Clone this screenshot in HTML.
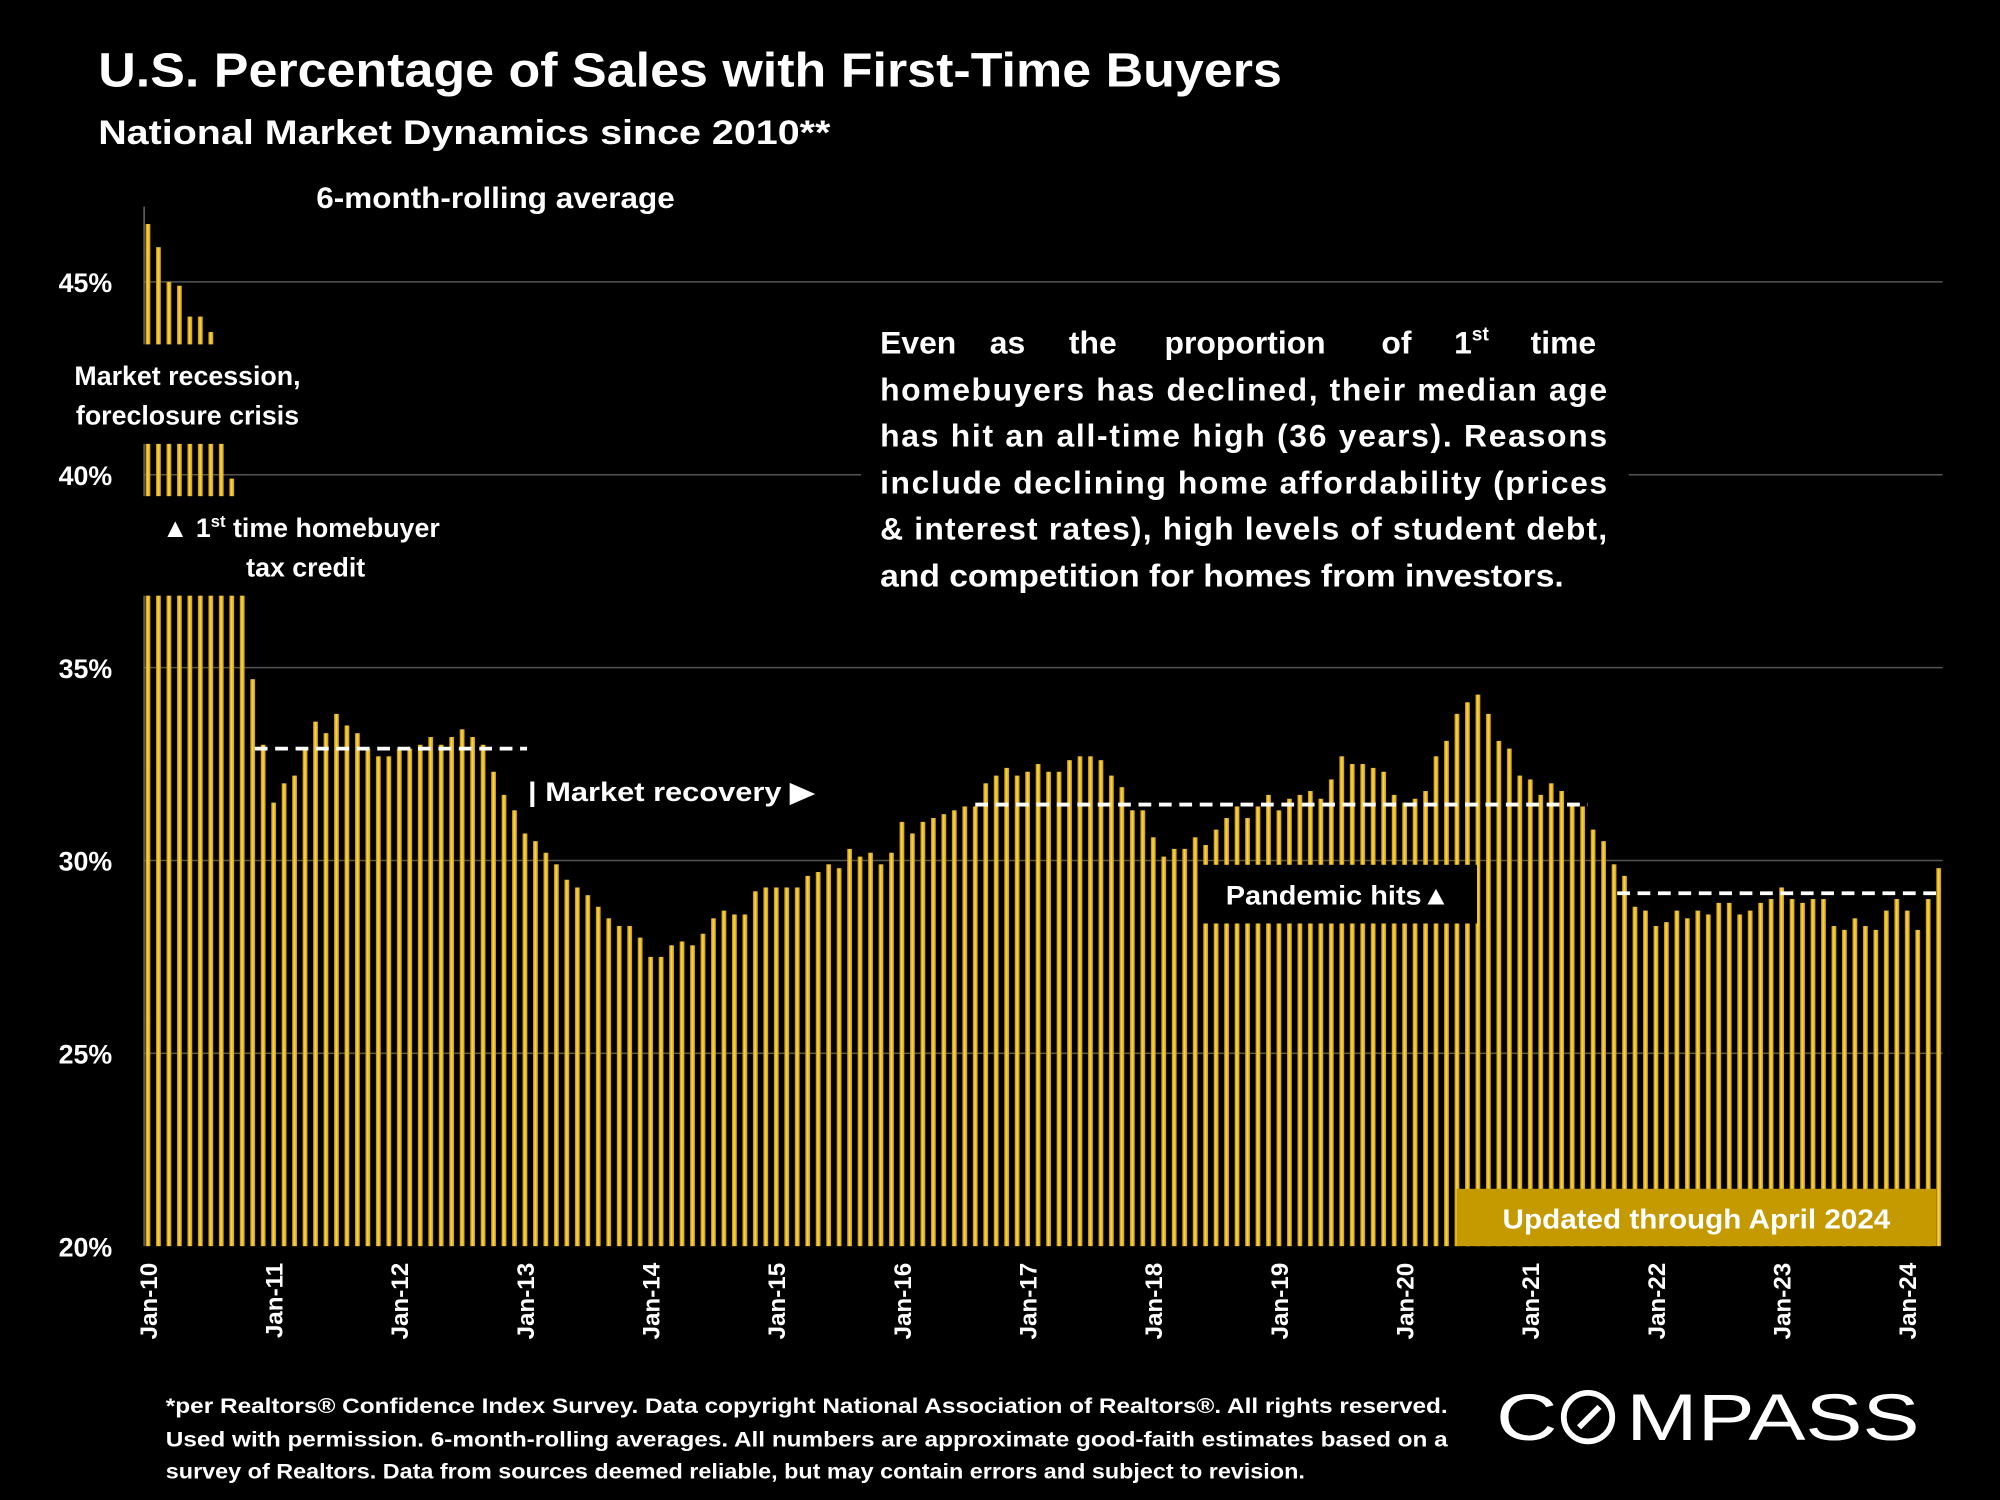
<!DOCTYPE html>
<html><head><meta charset="utf-8"><style>
html,body{margin:0;padding:0;background:#000;}
svg{display:block;}
text{font-family:"Liberation Sans",sans-serif;font-weight:bold;fill:#fff;}
</style></head><body>
<svg id="chart" xmlns="http://www.w3.org/2000/svg" width="2000" height="1500" viewBox="0 0 1568 1176">
<defs>
<linearGradient id="bg" x1="0" x2="1" y1="0" y2="0">
<stop offset="0" stop-color="#b8860b"/><stop offset="0.45" stop-color="#ffd84a"/><stop offset="1" stop-color="#c8960c"/>
</linearGradient>
</defs>
<rect x="0" y="0" width="1568" height="1176" fill="#000"/>
<text x="77" y="68" font-size="38" textLength="928" lengthAdjust="spacingAndGlyphs">U.S. Percentage of Sales with First-Time Buyers</text>
<text x="77" y="113" font-size="27" textLength="574" lengthAdjust="spacingAndGlyphs">National Market Dynamics since 2010**</text>
<text x="248" y="163" font-size="23" textLength="281" lengthAdjust="spacingAndGlyphs">6-month-rolling average</text>
<g id="grid"></g>
<g id="bars"></g>
<g id="avg"></g>
<g id="yax"></g>
<g id="xax"></g>

<rect x="40" y="270" width="215" height="78" fill="#000"/>
<text font-size="21" text-anchor="middle"><tspan x="147" y="302">Market recession,</tspan><tspan x="147" y="333">foreclosure crisis</tspan></text>
<rect x="110" y="389" width="275" height="78" fill="#000"/>
<text font-size="21"><tspan x="127" y="421">▲ 1<tspan font-size="13" dy="-8">st</tspan><tspan dy="8"> time homebuyer</tspan></tspan><tspan x="193" y="452">tax credit</tspan></text>
<text x="414" y="628" font-size="21" textLength="224" lengthAdjust="spacingAndGlyphs">| Market recovery ▶</text>
<rect x="940" y="678" width="218" height="46" fill="#000"/>
<text x="961" y="709" font-size="21" textLength="176" lengthAdjust="spacingAndGlyphs">Pandemic hits▲</text>
<rect x="675" y="245" width="602" height="228" fill="#000"/>
<g font-size="25">
<text y="277"><tspan x="690">Even</tspan><tspan x="776">as</tspan><tspan x="838">the</tspan><tspan x="913">proportion</tspan><tspan x="1083">of</tspan><tspan x="1140">1</tspan><tspan font-size="15" dy="-10">st</tspan><tspan x="1200" dy="10">time</tspan></text>
<text x="690" y="314" textLength="570" lengthAdjust="spacing">homebuyers has declined, their median age</text>
<text x="690" y="350" textLength="570" lengthAdjust="spacing">has hit an all-time high (36 years). Reasons</text>
<text x="690" y="387" textLength="570" lengthAdjust="spacing">include declining home affordability (prices</text>
<text x="690" y="423" textLength="570" lengthAdjust="spacing">&amp; interest rates), high levels of student debt,</text>
<text x="690" y="460" textLength="536" lengthAdjust="spacingAndGlyphs">and competition for homes from investors.</text>
</g>
<rect x="1142" y="932" width="376" height="45" fill="#c49a00"/>
<text x="1330" y="963" font-size="22" text-anchor="middle" textLength="304" lengthAdjust="spacingAndGlyphs">Updated through April 2024</text>

<g font-size="17">
<text x="130" y="1108" textLength="1005" lengthAdjust="spacingAndGlyphs">*per Realtors® Confidence Index Survey. Data copyright National Association of Realtors®. All rights reserved.</text>
<text x="130" y="1134" textLength="1005" lengthAdjust="spacingAndGlyphs">Used with permission. 6-month-rolling averages. All numbers are approximate good-faith estimates based on a</text>
<text x="130" y="1159" textLength="893" lengthAdjust="spacingAndGlyphs">survey of Realtors. Data from sources deemed reliable, but may contain errors and subject to revision.</text>
</g>
<g>
<text x="1173" y="1129" font-size="52" style="font-weight:normal" textLength="48" lengthAdjust="spacingAndGlyphs">C</text>
<circle cx="1245" cy="1111" r="19" fill="none" stroke="#fff" stroke-width="4.5"/>
<line x1="1238" y1="1119" x2="1254" y2="1103" stroke="#fff" stroke-width="4.5"/>
<text x="1275" y="1129" font-size="52" style="font-weight:normal" textLength="230" lengthAdjust="spacingAndGlyphs">MPASS</text>
</g>
</svg>
<script>
const months = [];
const values = [46.5,45.9,45.0,44.9,44.1,44.1,43.7,42.0,39.9,37.6,34.7,33.0,31.5,32.0,32.2,32.9,33.6,33.3,33.8,33.5,33.3,32.9,32.7,32.7,32.9,32.9,33.0,33.2,33.0,33.2,33.4,33.2,33.0,32.3,31.7,31.3,
30.7,30.5,30.2,29.9,29.5,29.3,29.1,28.8,28.5,28.3,28.3,28.0,27.5,27.5,27.8,27.9,27.8,28.1,28.5,28.7,28.6,28.6,29.2,29.3,29.3,29.3,29.3,29.6,29.7,29.9,29.8,30.3,30.1,30.2,29.9,30.2,
31.0,30.7,31.0,31.1,31.2,31.3,31.4,31.4,32.0,32.2,32.4,32.2,32.3,32.5,32.3,32.3,32.6,32.7,32.7,32.6,32.2,31.9,31.3,31.3,30.6,30.1,30.3,30.3,30.6,30.4,30.8,31.1,31.4,31.1,31.4,31.7,
31.3,31.6,31.7,31.8,31.6,32.1,32.7,32.5,32.5,32.4,32.3,31.7,31.5,31.6,31.8,32.7,33.1,33.8,34.1,34.3,33.8,33.1,32.9,32.2,32.1,31.7,32.0,31.8,31.4,31.4,30.8,30.5,29.9,29.6,28.8,28.7,
28.3,28.4,28.7,28.5,28.7,28.6,28.9,28.9,28.6,28.7,28.9,29.0,29.3,29.0,28.9,29.0,29.0,28.3,28.2,28.5,28.3,28.2,28.7,29.0,28.7,28.2,29.0,29.8];
const yTicks = [20,25,30,35,40,45];
const yTickLabels = ["20%","25%","30%","35%","40%","45%"];
const xTickLabels = ["Jan-10","Jan-11","Jan-12","Jan-13","Jan-14","Jan-15","Jan-16","Jan-17","Jan-18","Jan-19","Jan-20","Jan-21","Jan-22","Jan-23","Jan-24"];
const avgStart = [10.2, 79.0, 140.3];
const avgEnd = [36.2, 137.5, 171.3];
const avgValue = [32.9, 31.45, 29.15];

const NS = "http://www.w3.org/2000/svg";
const X0 = 116, DX = 8.21, Y20 = 977, PPU = 30.24;
function xS(i){ return X0 + i*DX; }
function yS(v){ return Y20 - (v-20)*PPU; }
function mk(tag, attrs, parent){ const e=document.createElementNS(NS,tag); for(const k in attrs) e.setAttribute(k,attrs[k]); parent.appendChild(e); return e; }

const grid=document.getElementById('grid'), bars=document.getElementById('bars'), avg=document.getElementById('avg'), yax=document.getElementById('yax'), xax=document.getElementById('xax');
yTicks.forEach((t,k)=>{
  if(t>20){
    const g=mk('line',{x1:113,x2:1523,y1:yS(t),y2:yS(t),stroke:'#555','stroke-width':1.2},grid);
    
    
  }
  const lb=mk('text',{x:88,y:yS(t)+8,'font-size':21,'text-anchor':'end'},yax);
  lb.textContent=yTickLabels[k];
  
  
});
const axl=mk('line',{x1:113,x2:113,y1:162,y2:977,stroke:'#666','stroke-width':1.2},yax);


values.forEach((v,i)=>{
  const r=mk('rect',{x:xS(i)-1.9,y:yS(v),width:3.8,height:Y20-yS(v),fill:'url(#bg)'},bars);
  
  
});
avgStart.forEach((s,k)=>{
  const l=mk('line',{x1:xS(s),x2:xS(avgEnd[k]),y1:yS(avgValue[k]),y2:yS(avgValue[k]),stroke:'#fff','stroke-width':3,'stroke-dasharray':'10 6'},avg);
  
  
});
xTickLabels.forEach((s,k)=>{
  const x=xS(k*12)+7, y=990;
  const t=mk('text',{x:x,y:y,'font-size':19,'text-anchor':'end',transform:'rotate(-90 '+x+' '+y+')'},xax);
  t.textContent=s;
  
  
});
</script>
</body></html>
